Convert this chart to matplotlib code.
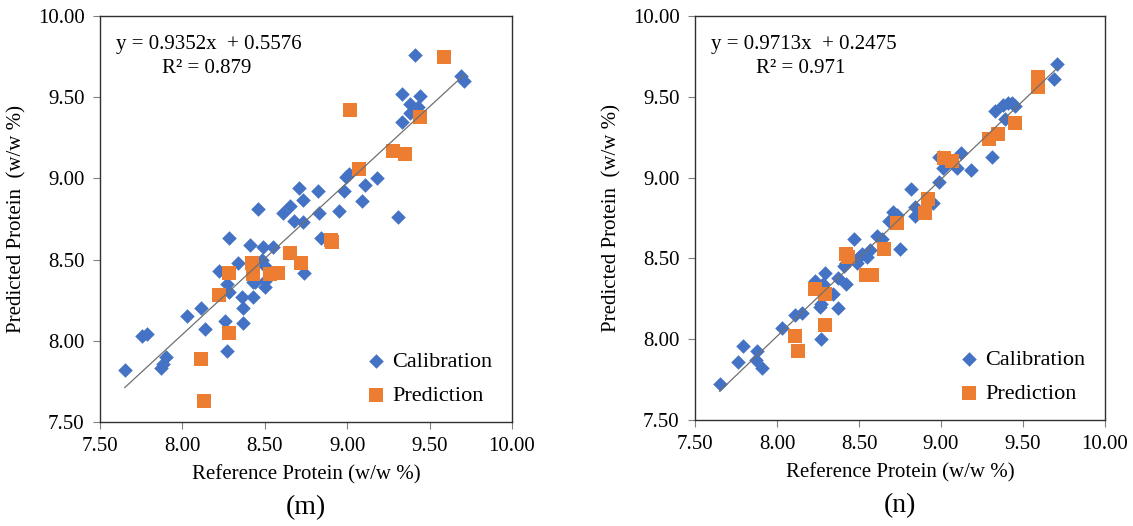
import matplotlib

matplotlib.use("Agg")

import numpy as np
import matplotlib.pyplot as plt

plt.rcParams['font.family'] = ['Liberation Serif', 'DejaVu Serif']

# %% panel (m) data
m_cal_x = [7.65, 7.755, 7.785, 7.87, 7.88, 7.90, 8.03, 8.11, 8.14, 8.22, 8.26, 8.27, 8.27, 8.28, 8.28,
           8.34, 8.36, 8.37, 8.37, 8.41, 8.43, 8.43, 8.44, 8.46, 8.48, 8.49, 8.50, 8.50, 8.50, 8.55,
           8.61, 8.65, 8.68, 8.71, 8.73, 8.73, 8.74, 8.82, 8.83, 8.84, 8.95, 8.98, 8.99, 9.01, 9.09,
           9.11, 9.18, 9.31, 9.33, 9.33, 9.38, 9.38, 9.43, 9.44, 9.41, 9.69, 9.71]
m_cal_y = [7.82, 8.03, 8.04, 7.83, 7.86, 7.90, 8.15, 8.20, 8.07, 8.43, 8.12, 7.94, 8.35, 8.30, 8.63,
           8.48, 8.27, 8.20, 8.11, 8.59, 8.27, 8.36, 8.36, 8.81, 8.50, 8.58, 8.46, 8.37, 8.33, 8.58,
           8.79, 8.83, 8.74, 8.94, 8.87, 8.73, 8.42, 8.92, 8.79, 8.63, 8.80, 8.92, 9.01, 9.03, 8.86,
           8.96, 9.00, 8.76, 9.35, 9.52, 9.40, 9.46, 9.44, 9.51, 9.76, 9.63, 9.60]
m_pred_x = [8.11, 8.13, 8.22, 8.28, 8.28, 8.42, 8.43, 8.53, 8.58, 8.65, 8.72, 8.90, 8.91, 9.02, 9.07,
            9.28, 9.35, 9.44, 9.59]
m_pred_y = [7.89, 7.63, 8.28, 8.42, 8.05, 8.48, 8.41, 8.41, 8.42, 8.54, 8.48, 8.62, 8.61, 9.42, 9.06,
            9.17, 9.15, 9.38, 9.75]
m_slope, m_icpt, m_r2 = 0.9352, 0.5576, 0.879

# %% panel (n) data
n_cal_x = [7.65, 7.76, 7.79, 7.87, 7.88, 7.91, 8.03, 8.11, 8.15, 8.27, 8.23, 8.26, 8.27, 8.28, 8.29,
           8.34, 8.37, 8.37, 8.42, 8.41, 8.42, 8.49, 8.47, 8.43, 8.50, 8.52, 8.55, 8.57, 8.61, 8.64,
           8.68, 8.71, 8.73, 8.75, 8.82, 8.84, 8.84, 8.95, 8.99, 8.99, 9.01, 9.10, 9.12, 9.18, 9.31,
           9.33, 9.39, 9.38, 9.41, 9.43, 9.45, 9.69, 9.71]
n_cal_y = [7.72, 7.86, 7.96, 7.87, 7.93, 7.82, 8.07, 8.15, 8.16, 8.00, 8.36, 8.20, 8.22, 8.34, 8.41,
           8.28, 8.19, 8.38, 8.34, 8.45, 8.47, 8.47, 8.62, 8.50, 8.51, 8.53, 8.51, 8.55, 8.64, 8.62,
           8.73, 8.79, 8.77, 8.56, 8.93, 8.82, 8.76, 8.84, 8.97, 9.13, 9.06, 9.06, 9.15, 9.05, 9.13,
           9.41, 9.36, 9.45, 9.46, 9.46, 9.44, 9.61, 9.70]
n_pred_x = [8.11, 8.13, 8.23, 8.29, 8.29, 8.42, 8.43, 8.54, 8.58, 8.65, 8.73, 8.90, 8.92, 9.02, 9.07,
            9.29, 9.35, 9.45, 9.59, 9.59]
n_pred_y = [8.02, 7.93, 8.31, 8.28, 8.09, 8.53, 8.51, 8.40, 8.40, 8.56, 8.72, 8.78, 8.87, 9.12, 9.10,
            9.24, 9.27, 9.34, 9.62, 9.56]
n_slope, n_icpt, n_r2 = 0.9713, 0.2475, 0.971

ticks = [7.50, 8.00, 8.50, 9.00, 9.50, 10.00]
BLUE = '#4472C4'
ORANGE = '#ED7D31'


def _draw_panel(ax, cal_x, cal_y, pred_x, pred_y, slope, icpt, r2, tag):
    ax.scatter(cal_x, cal_y, marker='D', s=55, c=BLUE, linewidths=0, label='Calibration', zorder=3)
    ax.scatter(pred_x, pred_y, marker='s', s=110, c=ORANGE, linewidths=0, label='Prediction', zorder=4)
    xs = np.array([min(cal_x), max(cal_x)])
    ax.plot(xs, slope * xs + icpt, c='#707070', lw=0.9, zorder=5)

    ax.set_xlim(7.5, 10.0)
    ax.set_ylim(7.5, 10.0)
    ax.set_xticks(ticks)
    ax.set_yticks(ticks)
    ax.set_xticklabels(['%.2f' % t for t in ticks])
    ax.set_yticklabels(['%.2f' % t for t in ticks])
    ax.tick_params(direction='out', length=5, width=0.8, color='#808080', labelsize=15, pad=6)
    for s in ax.spines.values():
        s.set_color('#303030')
        s.set_linewidth(1.0)
    ax.set_xlabel('Reference Protein (w/w %)', fontsize=15, labelpad=6)
    ax.set_ylabel('Predicted Protein  (w/w %)', fontsize=15, labelpad=8)

    ax.text(0.04, 0.93, 'y = %.4fx  + %.4f' % (slope, icpt), transform=ax.transAxes, fontsize=15,
            va='center', ha='left')
    ax.text(0.15, 0.87, 'R² = %.3f' % r2, transform=ax.transAxes, fontsize=15, va='center', ha='left')

    ax.legend(loc='lower right', bbox_to_anchor=(1.0, -0.01), frameon=False, fontsize=16,
              handletextpad=0.1, labelspacing=0.6, borderaxespad=0.5, handlelength=1.2,
              markerscale=1.0)
    ax.text(0.5, -0.212, tag, transform=ax.transAxes, fontsize=20, ha='center', va='center')


fig = plt.figure(figsize=(11.33, 5.26), dpi=100)
ax1 = fig.add_axes([100 / 1133, 104 / 526, 412 / 1133, 406 / 526])
ax2 = fig.add_axes([695 / 1133, 106 / 526, 410 / 1133, 404 / 526])

_draw_panel(ax1, m_cal_x, m_cal_y, m_pred_x, m_pred_y, m_slope, m_icpt, m_r2, '(m)')
_draw_panel(ax2, n_cal_x, n_cal_y, n_pred_x, n_pred_y, n_slope, n_icpt, n_r2, '(n)')

fig.savefig('out.png', dpi=100)
